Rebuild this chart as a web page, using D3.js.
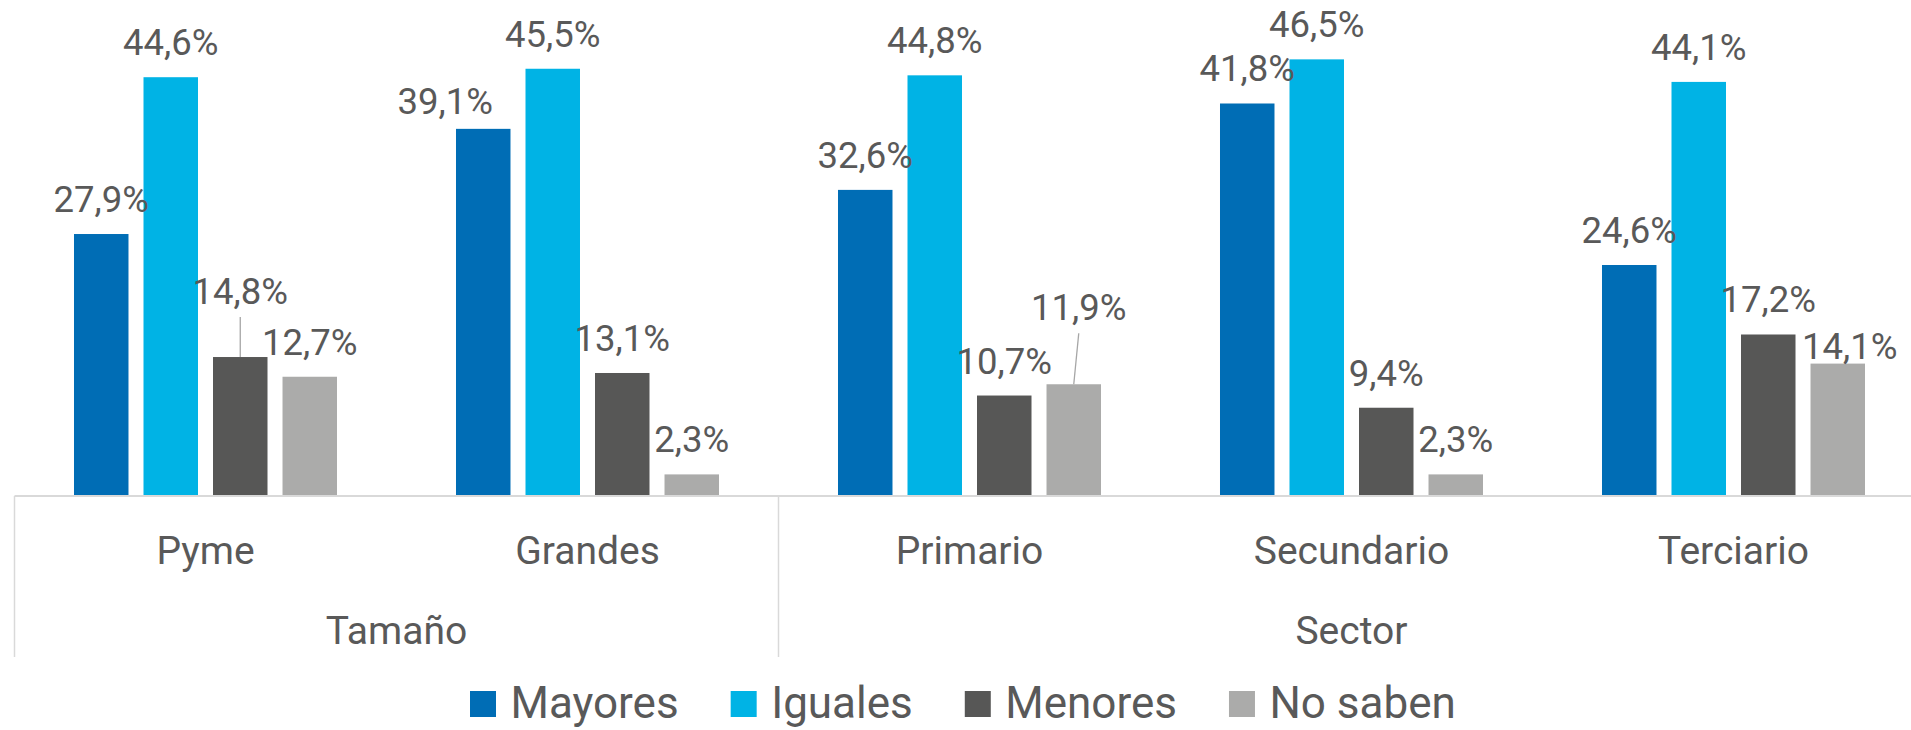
<!DOCTYPE html>
<html>
<head>
<meta charset="utf-8">
<script src="https://cdn.jsdelivr.net/npm/d3@7"></script>
<style>
  body { margin: 0; background: #fff; }
  svg { display: block; font-family: Roboto, "Open Sans", sans-serif; }
  .lbl { fill: #595959; font-size: 36.5px; }
  .cat { fill: #595959; font-size: 39px; }
  .leg { fill: #595959; font-size: 44px; }
</style>
</head>
<body>
<svg id="chart" width="1911" height="730"></svg>
<script>
var categories = ["Pyme", "Grandes", "Primario", "Secundario", "Terciario"];
var groups = [{name: "Tamaño", from: 0, to: 1}, {name: "Sector", from: 2, to: 4}];
var series = ["Mayores", "Iguales", "Menores", "No saben"];
var mayores = [27.9, 39.1, 32.6, 41.8, 24.6];
var iguales = [44.6, 45.5, 44.8, 46.5, 44.1];
var menores = [14.8, 13.1, 10.7, 9.4, 17.2];
var noSaben = [12.7, 2.3, 11.9, 2.3, 14.1];
var values = [mayores, iguales, menores, noSaben];
var colors = ["#006db5", "#00b3e5", "#575756", "#ababaa"];

// labels that were dragged by hand in the original (dx, dy from default spot)
var nudge = {
  "0-2": {dx: 0, dy: -31, leader: true},
  "1-0": {dx: -38, dy: 7},
  "2-3": {dx: 5, dy: -42, leader: true},
  "4-3": {dx: 12, dy: 17}
};

var svg = d3.select("#chart");
var baseY = 496;

var x0 = d3.scaleBand().domain(d3.range(categories.length)).range([14.5, 1924.5]);
var x1 = d3.scaleBand().domain(d3.range(series.length))
  .range([0, x0.bandwidth()]).paddingInner(0.216).paddingOuter(0.856);
var y = d3.scaleLinear().domain([0, 50]).range([baseY, baseY - 469.5]);

var cells = [];
categories.forEach(function(c, i) {
  series.forEach(function(s, j) {
    cells.push({cat: i, ser: j, v: values[j][i]});
  });
});

function cx(d) { return x0(d.cat) + x1(d.ser) + x1.bandwidth() / 2; }
function nd(d) { return nudge[d.cat + "-" + d.ser]; }

svg.selectAll(".bar")
  .data(cells)
  .enter().append("rect")
  .attr("class", "bar")
  .attr("x", function(d) { return x0(d.cat) + x1(d.ser); })
  .attr("y", function(d) { return y(d.v); })
  .attr("width", x1.bandwidth())
  .attr("height", function(d) { return baseY - y(d.v); })
  .attr("fill", function(d) { return colors[d.ser]; });

// leader lines for moved labels
svg.selectAll(".leader")
  .data(cells.filter(function(d) { return nd(d) && nd(d).leader; }))
  .enter().append("line")
  .attr("class", "leader")
  .attr("x1", function(d) { return cx(d) + nd(d).dx; })
  .attr("y1", function(d) { return y(d.v) - 22 + nd(d).dy + 13; })
  .attr("x2", cx)
  .attr("y2", function(d) { return y(d.v); })
  .attr("stroke", "#a6a6a6")
  .attr("stroke-width", 1.3);

svg.selectAll(".lbl")
  .data(cells)
  .enter().append("text")
  .attr("class", "lbl")
  .attr("text-anchor", "middle")
  .attr("x", function(d) { return cx(d) + (nd(d) ? nd(d).dx : 0); })
  .attr("y", function(d) { return y(d.v) - 22 + (nd(d) ? nd(d).dy : 0); })
  .text(function(d) { return d3.format(".1f")(d.v).replace(".", ",") + "%"; });

// axis line and group dividers
svg.append("line")
  .attr("x1", x0.range()[0]).attr("x2", 1911)
  .attr("y1", baseY).attr("y2", baseY)
  .attr("stroke", "#d9d9d9").attr("stroke-width", 2);

var edges = [0].concat(groups.map(function(g) { return g.to + 1; }));
svg.selectAll(".divider")
  .data(edges)
  .enter().append("line")
  .attr("class", "divider")
  .attr("x1", function(d) { return x0.range()[0] + d * x0.step(); })
  .attr("x2", function(d) { return x0.range()[0] + d * x0.step(); })
  .attr("y1", baseY).attr("y2", 657)
  .attr("stroke", "#d9d9d9").attr("stroke-width", 1.5);

svg.selectAll(".cat-name")
  .data(categories)
  .enter().append("text")
  .attr("class", "cat cat-name")
  .attr("text-anchor", "middle")
  .attr("x", function(d, i) { return x0(i) + x0.bandwidth() / 2; })
  .attr("y", 564)
  .text(function(d) { return d; });

svg.selectAll(".grp-name")
  .data(groups)
  .enter().append("text")
  .attr("class", "cat grp-name")
  .attr("text-anchor", "middle")
  .attr("x", function(d) { return (x0(d.from) + x0(d.to) + x0.bandwidth()) / 2; })
  .attr("y", 644)
  .text(function(d) { return d.name; });

// legend
var leg = svg.append("g").attr("class", "legend");
var lx = 470;
series.forEach(function(s, j) {
  leg.append("rect")
    .attr("x", lx).attr("y", 691)
    .attr("width", 26).attr("height", 26)
    .attr("fill", colors[j]);
  var t = leg.append("text")
    .attr("class", "leg")
    .attr("x", lx + 40.5).attr("y", 718)
    .text(s);
  lx += 40.5 + t.node().getComputedTextLength() + 52;
});
</script>
</body>
</html>
